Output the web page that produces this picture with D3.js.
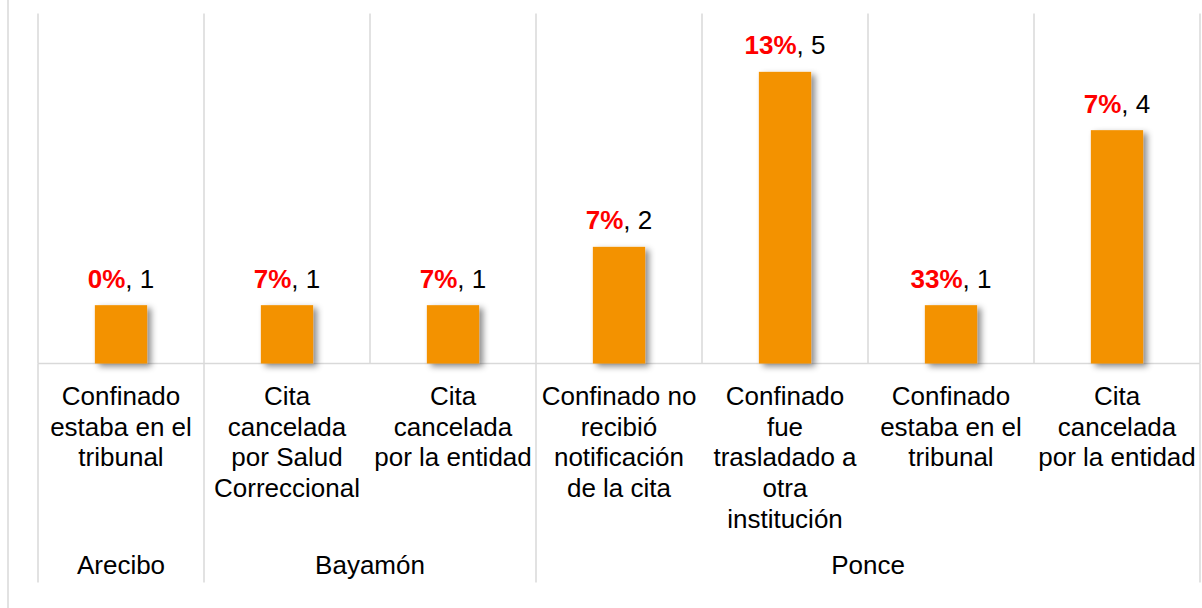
<!DOCTYPE html>
<html>
<head>
<meta charset="utf-8">
<script src="https://cdn.jsdelivr.net/npm/d3@7"></script>
<style>
  html, body { margin: 0; padding: 0; background: #fff; }
  svg { display: block; font-family: "Liberation Sans", Arial, sans-serif; }
</style>
</head>
<body>
<svg id="chart" width="1202" height="608"></svg>
<script>
// ---- data ----
const groups = ["Arecibo", "Bayamón", "Ponce"];
const groupOf = ["Arecibo", "Bayamón", "Bayamón", "Ponce", "Ponce", "Ponce", "Ponce"];
const categories = [
  ["Confinado", "estaba en el", "tribunal"],
  ["Cita", "cancelada", "por Salud", "Correccional"],
  ["Cita", "cancelada", "por la entidad"],
  ["Confinado no", "recibió", "notificación", "de la cita"],
  ["Confinado", "fue", "trasladado a", "otra", "institución"],
  ["Confinado", "estaba en el", "tribunal"],
  ["Cita", "cancelada", "por la entidad"]
];
const counts = [1, 1, 1, 2, 5, 1, 4];
const percents = ["0%", "7%", "7%", "7%", "13%", "33%", "7%"];
const yTicks = [0, 1, 2, 3, 4, 5, 6];

// ---- layout ----
const svg = d3.select("#chart");
const plotLeft = 38, plotRight = 1200, plotTop = 13.5, plotBase = 363.5;
const gridColor = "#d9d9d9";

const idx = d3.range(categories.length);
const x = d3.scaleBand().domain(idx).range([plotLeft, plotRight]).padding(0);
const y = d3.scaleLinear().domain([0, d3.max(yTicks)]).range([plotBase, plotTop]);
const barW = x.bandwidth() * 0.315;

// drop shadow
const defs = svg.append("defs");
const f = defs.append("filter").attr("id", "shadow")
  .attr("x", "-30%").attr("y", "-10%").attr("width", "170%").attr("height", "130%");
f.append("feDropShadow").attr("dx", 4).attr("dy", 3).attr("stdDeviation", 3)
  .attr("flood-color", "#000").attr("flood-opacity", 0.45);

// outer frame line
svg.append("line").attr("x1", 8).attr("x2", 8).attr("y1", 0).attr("y2", 608)
  .attr("stroke", gridColor).attr("stroke-width", 1.5);

// vertical grid lines at category boundaries
const bounds = idx.map(i => x(i)).concat([plotRight]);
svg.append("g").selectAll("line").data(bounds).join("line")
  .attr("x1", d => d).attr("x2", d => d)
  .attr("y1", y(d3.max(yTicks))).attr("y2", plotBase)
  .attr("stroke", gridColor).attr("stroke-width", 1.5);

// group boundaries extend through the label area
const groupStarts = [];
groupOf.forEach((g, i) => { if (i === 0 || groupOf[i - 1] !== g) groupStarts.push(i); });
const groupBounds = groupStarts.map(i => x(i)).concat([plotRight]);
svg.append("g").selectAll("line").data(groupBounds).join("line")
  .attr("x1", d => d).attr("x2", d => d)
  .attr("y1", plotBase).attr("y2", 582.5)
  .attr("stroke", gridColor).attr("stroke-width", 1.5);

// baseline
svg.append("line").attr("x1", plotLeft).attr("x2", plotRight).attr("y1", y(0)).attr("y2", y(0))
  .attr("stroke", gridColor).attr("stroke-width", 1.5);

// bars
svg.append("g").selectAll("rect").data(counts).join("rect")
  .attr("x", (d, i) => x(i) + x.bandwidth() / 2 - barW / 2)
  .attr("y", d => y(d))
  .attr("width", barW)
  .attr("height", d => y(0) - y(d))
  .attr("fill", "#F39200")
  .attr("filter", "url(#shadow)");

// data labels
const lab = svg.append("g").selectAll("text").data(counts).join("text")
  .attr("x", (d, i) => x(i) + x.bandwidth() / 2)
  .attr("y", d => y(d) - 17.5)
  .attr("text-anchor", "middle")
  .attr("font-size", 26);
lab.append("tspan").attr("fill", "#FF0000").attr("font-weight", "bold")
  .text((d, i) => percents[i]);
lab.append("tspan").attr("fill", "#000").text(d => ", " + d);

// category labels
const catG = svg.append("g").selectAll("text").data(categories).join("text")
  .attr("text-anchor", "middle")
  .attr("font-size", 26)
  .attr("fill", "#000");
catG.each(function(lines, i) {
  const t = d3.select(this);
  lines.forEach((ln, k) => {
    t.append("tspan")
      .attr("x", x(i) + x.bandwidth() / 2)
      .attr("y", 405 + k * 30.7)
      .text(ln);
  });
});

// group labels
svg.append("g").selectAll("text").data(groups).join("text")
  .attr("x", (g, j) => (groupBounds[j] + groupBounds[j + 1]) / 2)
  .attr("y", 574)
  .attr("text-anchor", "middle")
  .attr("font-size", 26)
  .attr("fill", "#000")
  .text(g => g);
</script>
</body>
</html>
